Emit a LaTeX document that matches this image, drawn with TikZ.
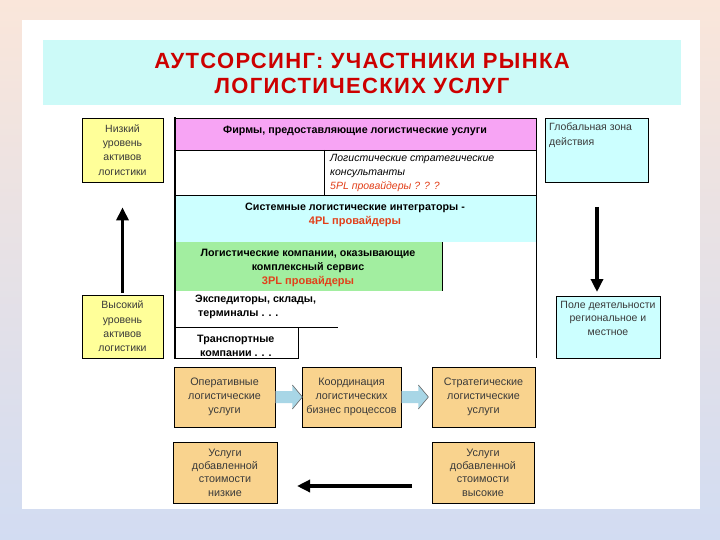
\documentclass[tikz,border=0pt]{standalone}
\usepackage{fontspec}
\setmainfont{Liberation Sans}
\newfontfamily\titlefont[LetterSpace=6]{Liberation Sans}
\usetikzlibrary{arrows.meta}
\definecolor{bgtop}{HTML}{FAE6DA}
\definecolor{bgbot}{HTML}{D2DCF2}
\definecolor{titlebg}{HTML}{CCFAF8}
\definecolor{titlered}{HTML}{CC0000}
\definecolor{pinkrow}{HTML}{F7A4F4}
\definecolor{cyanrow}{HTML}{CCFFFF}
\definecolor{greenrow}{HTML}{A2EEA0}
\definecolor{yellowbox}{HTML}{FFFF99}
\definecolor{orangebox}{HTML}{F9D38E}
\definecolor{plred}{HTML}{E2401A}
\definecolor{chevblue}{HTML}{A8D6E6}
\definecolor{txtgray}{HTML}{3A3A3A}
\tikzset{
  box/.style={draw=black, line width=0.8pt, inner sep=0pt, align=center, text=txtgray,
    font=\fontsize{10.5}{14.3}\selectfont},
  ybox/.style={box, fill=yellowbox},
  cbox/.style={box, fill=cyanrow},
  obox/.style={box, fill=orangebox, font=\fontsize{10.8}{14}\selectfont},
  ctext/.style={inner sep=0pt, align=center, font=\bfseries\fontsize{10.7}{14}\selectfont},
  frame/.style={line width=0.8pt, draw=black},
  bigarrow/.style={line width=3.6pt, -{Triangle[length=13pt,width=12pt]}},
  chevbody/.style={fill=chevblue, draw=none},
  chevline/.style={draw=gray!80!black, line width=0.6pt, line join=round}
}
\begin{document}
\begin{tikzpicture}[x=1pt,y=-1pt]
\useasboundingbox (0,0) rectangle (720,540);
\shade[top color=bgtop, bottom color=bgbot] (0,0) rectangle (720,540);
\fill[white] (22,20) rectangle (700,509);
\fill[titlebg] (43,40) rectangle (681,105);
\node[font=\titlefont\bfseries\fontsize{22}{25}\selectfont, text=titlered, align=center, inner sep=0pt]
  (title) at (362,73) {АУТСОРСИНГ: УЧАСТНИКИ РЫНКА\\ЛОГИСТИЧЕСКИХ УСЛУГ};

% left boxes
\node[ybox, minimum width=81pt, minimum height=64pt] (ltop) at (122.5,150) {Низкий\\уровень\\активов\\логистики};
\node[ybox, minimum width=81pt, minimum height=63pt] (lbot) at (122.5,326.5) {Высокий\\уровень\\активов\\логистики};
\draw[bigarrow, shorten <=2pt, shorten >=25pt] (lbot.north) -- (ltop.south);

% right boxes
\node[cbox, minimum width=103pt, minimum height=64pt] (rtop) at (596.5,150) {};
\node[anchor=north west, inner sep=0pt, align=left, text=txtgray, font=\fontsize{10.5}{14.3}\selectfont]
  (rtoptext) at (549,123) {Глобальная зона\\действия};
\node[cbox, minimum width=104pt, minimum height=62pt] (rbot) at (608,327) {};
\node[anchor=north, inner sep=0pt, align=center, text=txtgray, font=\fontsize{10.5}{13.5}\selectfont]
  (rbottext) at (608,301) {Поле деятельности\\региональное и\\местное};
\coordinate (d1) at (597,207);
\coordinate (d2) at (597,292);
\draw[bigarrow] (d1) -- (d2);

% central block fills
\fill[pinkrow] (175,118) rectangle (536,150);
\fill[cyanrow] (175,195) rectangle (536,242);
\fill[greenrow] (175,242) rectangle (442,291);
% central block lines
\draw[frame] (175,118) -- (536,118);
\draw[frame] (175,150) -- (536,150);
\draw[frame] (175,195) -- (536,195);
\draw[frame] (324,150) -- (324,195);
\draw[frame] (442,242) -- (442,291);
\draw[frame] (175,327) -- (338,327);
\draw[frame] (298,327) -- (298,358) -- (175,358);
\draw[frame] (536,118) -- (536,358);
\draw[line width=2.6pt] (175,117) -- (175,359);

% central texts
\node[ctext] (firms) at (355,131) {Фирмы, предоставляющие логистические услуги};
\node[anchor=north west, inner sep=0pt, align=left, font=\itshape\fontsize{10.5}{14}\selectfont]
  (consult) at (330,154) {Логистические стратегические\\консультанты\\\textcolor{plred}{5PL провайдеры ? ? ?}};
\node[ctext] (fourpl) at (355,215) {Системные логистические интеграторы -\\{\color{plred}\fontsize{11}{14}\selectfont 4PL провайдеры}};
\node[ctext] (threepl) at (308,268) {Логистические компании, оказывающие\\комплексный сервис\\{\color{plred}\fontsize{11}{14}\selectfont 3PL провайдеры}};
\node[ctext, anchor=west, align=left] (exped) at (195,307) {Экспедиторы, склады,\\\hspace{3pt}терминалы . . .};
\node[ctext, anchor=west, align=left] (transp) at (197,346) {Транспортные\\\hspace{3pt}компании . . .};

% bottom orange boxes
\node[obox, minimum width=101pt, minimum height=60pt] (o1) at (224.5,397) {Оперативные\\логистические\\услуги};
\node[obox, minimum width=99pt, minimum height=60pt] (o2) at (351.5,397) {Координация\\логистических\\бизнес процессов};
\node[obox, minimum width=103pt, minimum height=60pt] (o3) at (483.5,397) {Стратегические\\логистические\\услуги};
% chevron arrows
\foreach \s in {o1,o2}{
  \fill[chevbody] (\s.east) ++(0,-6) -- ++(17,0) -- ++(0,-6) -- ++(10,12) -- ++(-10,12) -- ++(0,-6) -- ++(-17,0) -- cycle;
  \draw[chevline] (\s.east) ++(0,-6) -- ++(0,12);
  \draw[chevline] (\s.east) ++(17,-12) -- ++(10,12) -- ++(-10,12);
}

\node[obox, minimum width=104pt, minimum height=61pt, font=\fontsize{10.8}{13.4}\selectfont] (o4) at (225,472.5) {Услуги\\добавленной\\стоимости\\низкие};
\node[obox, minimum width=102pt, minimum height=61pt, font=\fontsize{10.8}{13.4}\selectfont] (o5) at (483,472.5) {Услуги\\добавленной\\стоимости\\высокие};
\coordinate (l1) at (412,486);
\coordinate (l2) at (297,486);
\draw[bigarrow] (l1) -- (l2);
\end{tikzpicture}
\end{document}
